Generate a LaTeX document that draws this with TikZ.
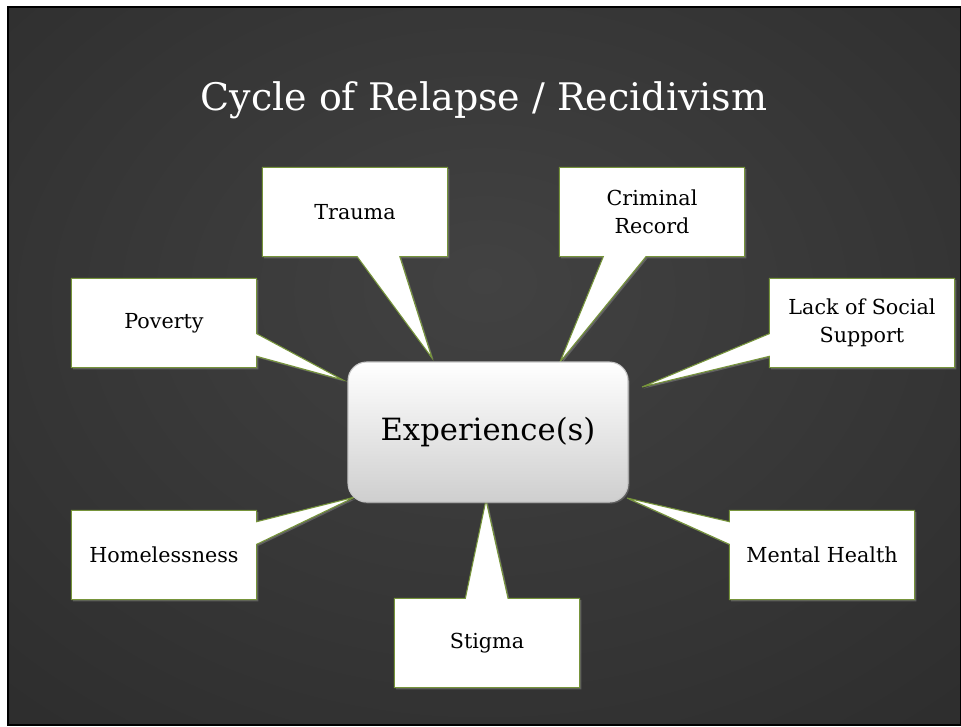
\documentclass[tikz,border=0pt]{standalone}
\usepackage{fontspec}
\setmainfont{DejaVu Serif}
\usetikzlibrary{shapes.callouts,shadows}

\definecolor{bgInner}{RGB}{66,66,66}
\definecolor{bgMid}{RGB}{44,44,44}
\definecolor{bgOuter}{RGB}{24,24,24}
\definecolor{boxEdge}{RGB}{118,148,58}
\pgfdeclareradialshading{slideglow}{\pgfpoint{0bp}{6bp}}{color(0bp)=(bgInner); color(40bp)=(bgMid); color(75bp)=(bgOuter)}

\tikzset{
  bubble/.style={rectangle callout, draw=boxEdge, line width=0.8pt, fill=white,
    minimum width=139pt, minimum height=67pt, align=center,
    font=\fontsize{15.5}{21}\selectfont, callout pointer width=32pt,
    drop shadow={shadow xshift=1.2pt, shadow yshift=-1.2pt, opacity=0.55}},
  sidebubble/.style={bubble, callout pointer width=17pt},
  hub/.style={rectangle, rounded corners=14pt, draw=gray!45, line width=0.8pt,
    top color=white, bottom color=gray!38, minimum width=210pt, minimum height=105pt,
    font=\fontsize{23}{27}\selectfont,
    drop shadow={shadow xshift=1.2pt, shadow yshift=-1.2pt, opacity=0.5}}
}

\begin{document}
\begin{tikzpicture}[x=0.75pt,y=0.75pt,yscale=-1,xscale=1]
\useasboundingbox (0,0) rectangle (961,726);

% slide background
\draw [black, line width=1.5pt, shading=slideglow] (8,7) rectangle (961,725);

\node [text=white, font=\fontsize{28.5}{32}\selectfont] (title) at (484,100) {Cycle of Relapse / Recidivism};

% pointer tips on the hub
\coordinate (tipTrauma) at (432,358);
\coordinate (tipCrime) at (560,362);
\coordinate (tipSupport) at (642,387);
\coordinate (tipPoverty) at (343,380);
\coordinate (tipHome) at (355,497);
\coordinate (tipMental) at (627,498);
\coordinate (tipStigma) at (486,500);

\node [bubble, callout absolute pointer=(tipTrauma)] (trauma) at (355,212) {Trauma};
\node [bubble, callout absolute pointer=(tipCrime)] (crime) at (652,212) {Criminal\\Record};
\node [sidebubble, callout absolute pointer=(tipSupport)] (support) at (862,323) {Lack of Social\\Support};
\node [sidebubble, callout absolute pointer=(tipPoverty)] (poverty) at (164,323) {Poverty};
\node [sidebubble, callout absolute pointer=(tipHome)] (home) at (164,555) {Homelessness};
\node [sidebubble, callout absolute pointer=(tipMental)] (mental) at (822,555) {Mental Health};
\node [bubble, callout absolute pointer=(tipStigma)] (stigma) at (487,643) {Stigma};

\node [hub] (exp) at (488,432) {Experience(s)};

\end{tikzpicture}
\end{document}
